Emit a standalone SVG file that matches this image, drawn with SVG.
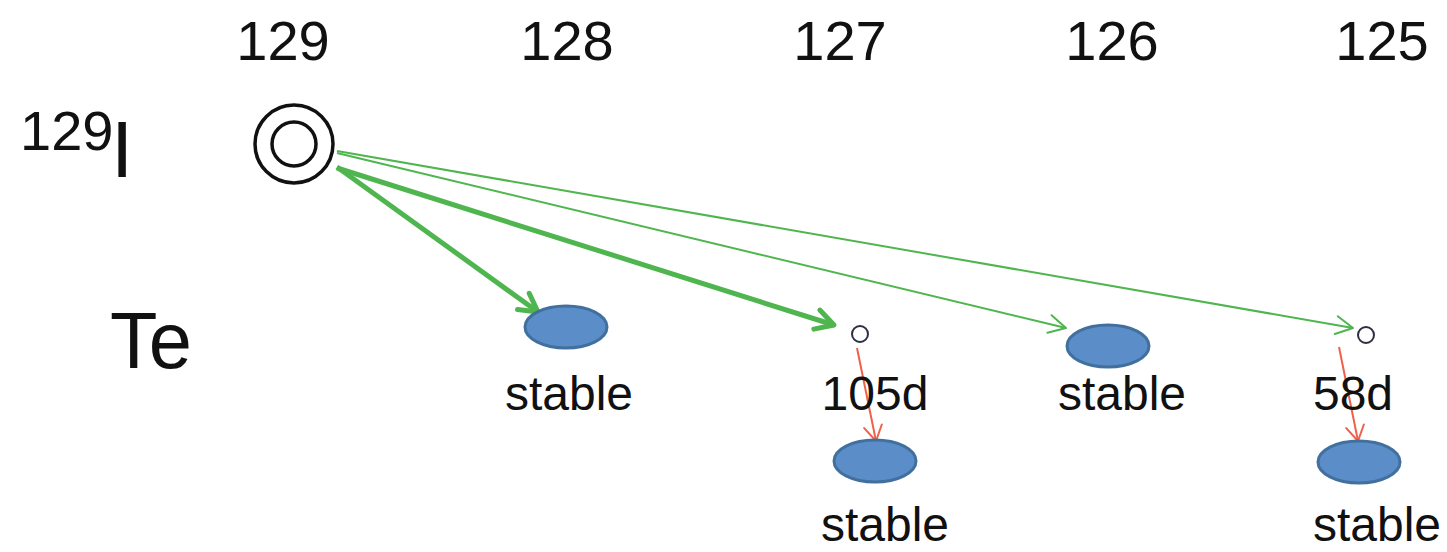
<svg xmlns="http://www.w3.org/2000/svg" width="1447" height="552" viewBox="0 0 1447 552">
  <style>
    text { font-family: "Liberation Sans", Arial, sans-serif; fill: #111; }
    .mass { font-size: 56px; text-anchor: middle; }
    .lbl { font-size: 48px; text-anchor: middle; }
    .elem { font-size: 80px; }
    .stable { fill: #5b8dc9; stroke: #41709f; stroke-width: 3; }
    .short { fill: #fff; stroke: #2e3040; stroke-width: 2; }
    .ring { fill: #fff; stroke: #111; stroke-width: 3.5; }
    .g-thick { fill: none; stroke: #4fb64f; stroke-width: 5; marker-end: url(#headThick); }
    .g-thin { fill: none; stroke: #4fb64f; stroke-width: 2; marker-end: url(#headThin); }
    .r-thin { fill: none; stroke: #f0604a; stroke-width: 2; marker-end: url(#headRed); }
  </style>
  <defs>
    <marker id="headThick" markerUnits="userSpaceOnUse" viewBox="-24 -14 28 28" refX="0" refY="0" markerWidth="28" markerHeight="28" orient="auto">
      <path d="M-18,-10 L0,0 L-18,10" fill="none" stroke="#4fb64f" stroke-width="5" stroke-linecap="round" stroke-linejoin="round"/>
    </marker>
    <marker id="headThin" markerUnits="userSpaceOnUse" viewBox="-22 -12 26 24" refX="0" refY="0" markerWidth="26" markerHeight="24" orient="auto">
      <path d="M-17,-9 L0,0 L-17,9" fill="none" stroke="#4fb64f" stroke-width="2" stroke-linecap="round" stroke-linejoin="round"/>
    </marker>
    <marker id="headRed" markerUnits="userSpaceOnUse" viewBox="-20 -12 24 24" refX="0" refY="0" markerWidth="24" markerHeight="24" orient="auto">
      <path d="M-15,-9 L0,0 L-15,9" fill="none" stroke="#f0604a" stroke-width="2" stroke-linecap="round" stroke-linejoin="round"/>
    </marker>
  </defs>

  <!-- mass number axis -->
  <g id="mass-axis">
    <text class="mass" x="283" y="60">129</text>
    <text class="mass" x="567" y="60">128</text>
    <text class="mass" x="840" y="60">127</text>
    <text class="mass" x="1112" y="60">126</text>
    <text class="mass" x="1382" y="60">125</text>
  </g>

  <!-- element rows -->
  <g id="row-I">
    <text x="20" y="150" font-size="56">129</text>
    <text class="elem" x="111" y="177">I</text>
  </g>
  <g id="row-Te">
    <text class="elem" x="110" y="368" textLength="82" lengthAdjust="spacingAndGlyphs">Te</text>
  </g>

  <!-- connectors -->
  <g id="connectors">
    <path class="g-thick" d="M337,167 L538,312"/>
    <path class="g-thick" d="M337,168 L834,325"/>
    <path class="g-thin" d="M337,153 L1066,328"/>
    <path class="g-thin" d="M337,151 L1353,328"/>
    <path class="r-thin" d="M857,348 L876,441"/>
    <path class="r-thin" d="M1339,347 L1358,441"/>
  </g>

  <!-- nuclides -->
  <g id="I-129">
    <circle class="ring" cx="294" cy="144" r="39"/>
    <circle class="ring" cx="294" cy="144" r="22"/>
  </g>
  <g id="Te-128">
    <ellipse class="stable" cx="566" cy="327" rx="41" ry="21"/>
    <text class="lbl" x="569" y="410">stable</text>
  </g>
  <g id="Te-127">
    <circle class="short" cx="860" cy="334" r="8"/>
    <text class="lbl" x="875" y="410">105d</text>
  </g>
  <g id="I-127">
    <ellipse class="stable" cx="875" cy="461" rx="41" ry="21"/>
    <text class="lbl" x="885" y="541">stable</text>
  </g>
  <g id="Te-126">
    <ellipse class="stable" cx="1108" cy="346" rx="41" ry="21"/>
    <text class="lbl" x="1122" y="410">stable</text>
  </g>
  <g id="Te-125">
    <circle class="short" cx="1366" cy="335" r="8"/>
    <text class="lbl" x="1353" y="410">58d</text>
  </g>
  <g id="I-125">
    <ellipse class="stable" cx="1359" cy="462" rx="41" ry="21"/>
    <text class="lbl" x="1377" y="541">stable</text>
  </g>
</svg>
